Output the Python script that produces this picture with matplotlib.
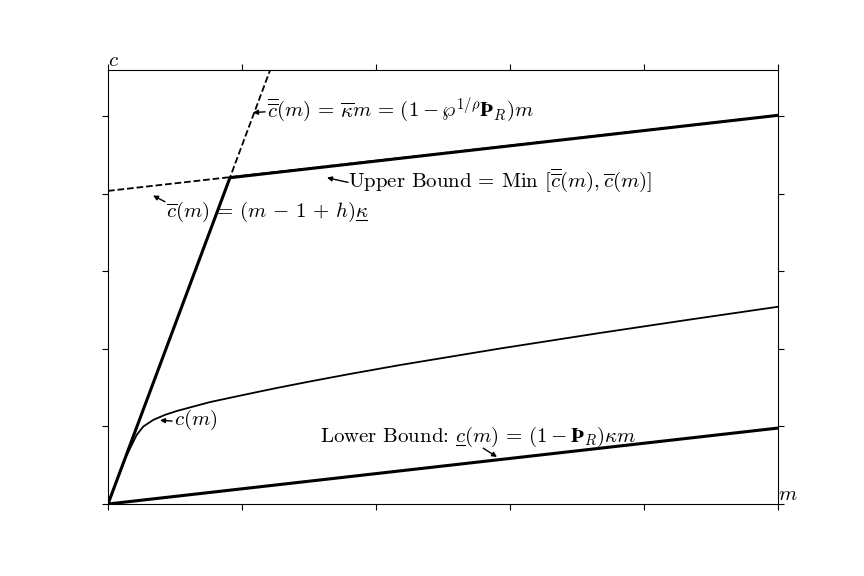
import matplotlib
matplotlib.use("Agg")
import matplotlib.pyplot as plt
from matplotlib.lines import Line2D

plt.rcParams['font.family'] = 'serif'
plt.rcParams['font.serif'] = ['cmr10']
plt.rcParams['mathtext.fontset'] = 'cm'
plt.rcParams['axes.unicode_minus'] = False
plt.rcParams['axes.formatter.use_mathtext'] = True

# values (x axis 0..5, y axis 0..5.6)
steep_m = [0.0, 1.21]          # cbarbar(m) = kappa_max * m
steep_c = [0.0, 5.60]
perm_m = [0.0, 5.0]            # cbar(m) = (m - 1 + h) * kappa_min
perm_c = [4.04, 5.015]
upper_m = [0.0, 0.91, 5.0]     # Min of the two
upper_c = [0.0, 4.21, 5.015]
lower_m = [0.0, 5.0]           # lower bound
lower_c = [0.0, 0.98]

c_m = [0.0, 0.10, 0.14, 0.177, 0.214, 0.263, 0.338, 0.425, 0.513, 0.761,
       1.010, 1.259, 1.507, 1.806, 2.179, 2.925, 3.672, 4.343, 5.0]
c_c = [0.0, 0.463, 0.63, 0.762, 0.891, 0.999, 1.085, 1.150, 1.200, 1.315,
       1.407, 1.497, 1.581, 1.678, 1.793, 2.006, 2.207, 2.380, 2.545]

fig = plt.figure(figsize=(8.64, 5.76), dpi=100)
ax = fig.add_axes([0.125, 0.125, 0.7755, 0.7535])

ax.plot(steep_m, steep_c, 'k--', lw=1.3)
ax.plot(perm_m, perm_c, 'k--', lw=1.3)
ax.plot(upper_m, upper_c, 'k-', lw=2.2)
ax.plot(lower_m, lower_c, 'k-', lw=2.2)
ax.plot(c_m, c_c, 'k-', lw=1.3)

ax.set_xlim(0, 5)
ax.set_ylim(0, 5.6)
ax.set_xticks(range(6))
ax.set_yticks(range(6))
ax.tick_params(top=True, right=True, labelbottom=False, labelleft=False,
               direction='out', length=4, width=0.8)

fs = 15
arrow = dict(arrowstyle='-|>', color='k', lw=1, mutation_scale=7,
             shrinkA=0, shrinkB=0)
renderer = fig.canvas.get_renderer()


def text_width(s):
    t = ax.text(0, 0, s, fontsize=fs)
    w = t.get_window_extent(renderer).width
    t.remove()
    return w


def underlined(x, y, s, upto, part):
    # mathtext has no \underline, so draw the bar under `part` by hand
    ax.text(x, y, s, fontsize=fs, ha='left', va='baseline')
    x0, y0 = ax.transData.transform((x, y))
    x_end = x0 + text_width(upto)
    x_start = x_end - text_width(part)
    inv = fig.transFigure.inverted()
    p0 = inv.transform((x_start + 1, y0 - 3))
    p1 = inv.transform((x_end - 1, y0 - 3))
    fig.add_artist(Line2D([p0[0], p1[0]], [p0[1], p1[1]], color='k', lw=0.8))


ax.annotate('', xy=(1.082, 5.05), xytext=(1.172, 5.06), arrowprops=arrow)
ax.text(1.19, 5.09, r'$\overline{\overline{c}}(m)\,=\,\overline{\kappa}m\,=\,'
        r'(1-\wp^{1/\rho}\mathbf{Þ}_R)m$', fontsize=fs, ha='left', va='center')

ax.annotate('', xy=(1.634, 4.21), xytext=(1.791, 4.15), arrowprops=arrow)
ax.text(1.79, 4.18, r'Upper Bound = Min $[\overline{\overline{c}}(m), \overline{c}(m)]$',
        fontsize=fs, ha='left', va='center')

ax.annotate('', xy=(0.336, 3.98), xytext=(0.425, 3.90), arrowprops=arrow)
cbar = r'$\overline{c}(m)\,=\,(m\,-\,1\,+\,h)\kappa$'
underlined(0.43, 3.70, cbar, cbar, r'$\kappa$')

ax.annotate('', xy=(0.388, 1.08), xytext=(0.478, 1.07), arrowprops=arrow)
ax.text(0.49, 1.085, r'$c(m)$', fontsize=fs, ha='left', va='center')

ax.annotate('', xy=(2.903, 0.607), xytext=(2.80, 0.72), arrowprops=arrow)
underlined(1.58, 0.80, r'Lower Bound: $c(m)\,=\,(1-\mathbf{Þ}_R)\kappa m$',
           r'Lower Bound: $c$', r'$c$')

ax.text(0.0, 1.0, r'$c$', transform=ax.transAxes, fontsize=fs,
        ha='left', va='bottom')
ax.text(1.0, 0.0, r'$m$', transform=ax.transAxes, fontsize=fs,
        ha='left', va='bottom')

fig.savefig('out.png', dpi=100)
